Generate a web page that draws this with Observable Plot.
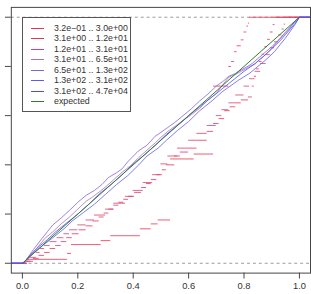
<!DOCTYPE html>
<html>
<head>
<meta charset="utf-8">
<script src="https://cdn.jsdelivr.net/npm/d3@7"></script>
<script src="https://cdn.jsdelivr.net/npm/@observablehq/plot@0.6"></script>
<style>
  html, body { margin: 0; padding: 0; background: #fff; overflow: hidden; width: 311px; height: 294px; }
  #wrap { position: relative; width: 311px; height: 294px; overflow: hidden; }
  #wrap svg { position: absolute; left: 0; top: 0; }
  #legend { position: absolute; left: 22px; top: 17px; width: 107px; height: 93px;
            border: 1px solid #555; background: #fff;
            font: 8.8px "Liberation Sans", Arial, sans-serif; color: #333; }
  #legend .row { position: absolute; left: 0; height: 10px; width: 100%; }
  #legend .swatch { position: absolute; left: 8px; width: 13px; top: 5px; height: 0; border-top: 1px solid; }
  #legend .lab { position: absolute; left: 31px; top: 0; line-height: 10px; white-space: nowrap; }
</style>
</head>
<body>
<div id="wrap"></div>
<script>
// Count bins (legend labels) and their colours, red (low counts) to blue (high counts)
const binLabels = [
  "3.2e\u221201 .. 3.0e+00",
  "3.1e+00 .. 1.2e+01",
  "1.2e+01 .. 3.1e+01",
  "3.1e+01 .. 6.5e+01",
  "6.5e+01 .. 1.3e+02",
  "1.3e+02 .. 3.1e+02",
  "3.1e+02 .. 4.7e+04"
];
const binColors = ["#e8334c", "#e2345a", "#d8406e", "#b070b4", "#8064d8", "#6458e6", "#4c4cf6"];
const expectedLabel = "expected";
const expectedColor = "#2e7a2e";

const xTicks = [0, 0.2, 0.4, 0.6, 0.8, 1.0];
const yTicks = [0, 0.2, 0.4, 0.6, 0.8, 1.0];

// Empirical CDFs of p-values per bin: [p, F] where F holds from p until the next jump.
const bin1 = [[0.018,0.016],[0.163,0.04],[0.177,0.076],[0.284,0.092],[0.319,0.112],[0.426,0.14],
  [0.465,0.16],[0.49,0.176],[0.535,0.424],[0.62,0.444],[0.69,0.72],[0.745,0.8],[0.755,0.82],
  [0.766,0.86],[0.775,0.884],[0.79,0.908],[0.8,0.94],[0.81,0.964],[0.816,0.976],[0.82,1]];
const bin2 = [[0.018,0.008],[0.04,0.02],[0.06,0.032],[0.08,0.044],[0.1,0.06],[0.12,0.072],[0.14,0.088],
  [0.16,0.104],[0.18,0.12],[0.205,0.136],[0.23,0.152],[0.255,0.172],[0.277,0.188],[0.295,0.204],
  [0.312,0.22],[0.33,0.236],[0.348,0.248],[0.366,0.26],[0.383,0.272],[0.405,0.288],[0.43,0.308],
  [0.448,0.324],[0.465,0.34],[0.485,0.36],[0.505,0.38],[0.52,0.4],[0.55,0.436],[0.57,0.452],
  [0.6,0.468],[0.63,0.5],[0.667,0.536],[0.69,0.568],[0.71,0.588],[0.73,0.62],[0.75,0.636],
  [0.77,0.652],[0.79,0.664],[0.816,0.676],[0.83,0.72],[0.837,0.76],[0.845,0.79],[0.855,0.82],
  [0.865,0.85],[0.875,0.88],[0.885,0.91],[0.895,0.94],[0.905,0.97],[0.912,1]];
const bin3 = [[0.015,0.008],[0.03,0.024],[0.05,0.044],[0.064,0.06],[0.08,0.072],[0.1,0.088],
  [0.125,0.104],[0.15,0.12],[0.17,0.136],[0.2,0.156],[0.23,0.176],[0.26,0.196],[0.3,0.22],
  [0.33,0.244],[0.372,0.272],[0.4,0.296],[0.436,0.328],[0.47,0.36],[0.5,0.404],[0.525,0.436],
  [0.56,0.468],[0.6,0.5],[0.63,0.528],[0.667,0.56],[0.7,0.6],[0.72,0.624],[0.745,0.652],
  [0.77,0.684],[0.8,0.72],[0.82,0.75],[0.84,0.78],[0.86,0.812],[0.88,0.848],[0.895,0.876],
  [0.91,0.9],[0.925,0.928],[0.937,0.952],[0.945,0.972],[0.95,1]];
const bin4 = [[0.008,0],[0.02,0.016],[0.04,0.044],[0.06,0.072],[0.08,0.1],[0.11,0.128],[0.14,0.16],
  [0.17,0.188],[0.2,0.22],[0.23,0.252],[0.252,0.268],[0.28,0.292],[0.3,0.31],[0.33,0.34],[0.36,0.37],
  [0.39,0.396],[0.42,0.43],[0.45,0.46],[0.48,0.49],[0.5,0.512],[0.525,0.536],[0.55,0.556],[0.58,0.58],
  [0.61,0.604],[0.64,0.63],[0.67,0.664],[0.7,0.69],[0.725,0.728],[0.745,0.756],[0.77,0.768],
  [0.79,0.78],[0.815,0.796],[0.84,0.81],[0.86,0.832],[0.88,0.85],[0.9,0.872],[0.92,0.9],
  [0.94,0.924],[0.96,0.948],[0.975,0.97],[0.99,0.992],[1,1]];
const bin5 = [[0.006,0],[0.02,0.024],[0.04,0.056],[0.07,0.1],[0.09,0.128],[0.11,0.156],[0.14,0.184],
  [0.17,0.215],[0.2,0.248],[0.23,0.276],[0.26,0.296],[0.287,0.32],[0.31,0.348],[0.34,0.368],
  [0.36,0.384],[0.38,0.412],[0.418,0.456],[0.45,0.48],[0.479,0.516],[0.5,0.532],[0.525,0.552],
  [0.55,0.572],[0.58,0.6],[0.61,0.628],[0.64,0.66],[0.67,0.688],[0.7,0.72],[0.725,0.74],
  [0.745,0.76],[0.77,0.772],[0.8,0.792],[0.825,0.808],[0.85,0.832],[0.875,0.856],[0.9,0.88],
  [0.925,0.908],[0.95,0.94],[0.97,0.964],[0.99,0.99],[1,1]];
const bin6 = [[0.004,0],[0.015,0.016],[0.03,0.032],[0.05,0.05],[0.08,0.078],[0.11,0.104],[0.15,0.14],
  [0.18,0.172],[0.22,0.206],[0.26,0.24],[0.3,0.28],[0.34,0.32],[0.38,0.356],[0.42,0.4],[0.45,0.436],
  [0.49,0.468],[0.52,0.5],[0.56,0.54],[0.6,0.576],[0.64,0.62],[0.68,0.656],[0.72,0.696],[0.75,0.72],
  [0.78,0.744],[0.82,0.772],[0.85,0.8],[0.88,0.828],[0.91,0.86],[0.93,0.888],[0.95,0.916],
  [0.97,0.948],[0.985,0.972],[1,1]];
const bin7 = [[0.003,0],[0.012,0.012],[0.03,0.036],[0.06,0.068],[0.09,0.096],[0.12,0.128],[0.16,0.164],
  [0.2,0.2],[0.24,0.24],[0.28,0.284],[0.32,0.32],[0.36,0.36],[0.4,0.404],[0.44,0.44],[0.48,0.48],
  [0.52,0.524],[0.56,0.56],[0.6,0.6],[0.64,0.636],[0.68,0.672],[0.72,0.708],[0.76,0.744],[0.8,0.78],
  [0.84,0.812],[0.87,0.84],[0.9,0.872],[0.93,0.904],[0.95,0.93],[0.97,0.956],[0.985,0.976],[1,1]];
const expected = [[0, 0], [1, 1]];

const domain = [-0.04, 1.04];

// Sparse bins: horizontal ECDF segments only (no verticals)
function stepSegments(pts) {
  const segs = [{a: domain[0], b: pts[0][0], F: 0}];
  pts.forEach((p, i) => segs.push({a: p[0], b: i + 1 < pts.length ? pts[i + 1][0] : domain[1], F: p[1]}));
  return segs;
}
// Dense bins: traced as a line, flat outside the observed range
function traced(pts) {
  return [[domain[0], 0], ...pts, [domain[1], 1]];
}

const stepBins = [bin1, bin2, bin3];
const lineBins = [bin4, bin5, bin6, bin7];

const marks = [
  Plot.ruleY([0, 1], {stroke: "#9a9a9a", strokeDasharray: "3,3", strokeWidth: 1}),
  ...stepBins.map((b, i) => Plot.ruleY(stepSegments(b), {
    y: "F", x1: "a", x2: "b", stroke: binColors[i], strokeWidth: 1, strokeOpacity: 0.8
  })),
  ...lineBins.map((b, i) => Plot.line(traced(b), {
    x: d => d[0], y: d => d[1], stroke: binColors[i + 3], strokeWidth: 1, strokeOpacity: 0.8
  })),
  Plot.line(expected, {x: d => d[0], y: d => d[1], stroke: expectedColor, strokeWidth: 1}),
  Plot.frame({stroke: "#444"}),
  Plot.axisX(xTicks, {tickSize: 6, tickPadding: 3, tickFormat: d3.format(".1f"), stroke: "#444", fill: "#333", label: null}),
  Plot.axisY(yTicks, {tickSize: 6, tickFormat: () => "", stroke: "#444", label: null})
];

const chart = Plot.plot({
  width: 316,
  height: 294,
  marginLeft: 11,
  marginRight: 1,
  marginTop: 7,
  marginBottom: 17,
  x: {domain, label: null},
  y: {domain, label: null},
  clip: true,
  style: {fontFamily: "'Liberation Sans', Arial, sans-serif", fontSize: "9.5px", background: "#fff"},
  marks
});

const wrap = document.getElementById("wrap");
wrap.appendChild(chart);

// Legend box in the upper left of the panel
const legend = document.createElement("div");
legend.id = "legend";
const entries = binLabels.map((l, i) => ({label: l, color: binColors[i]}))
  .concat([{label: expectedLabel, color: expectedColor}]);
entries.forEach((e, i) => {
  const row = document.createElement("div");
  row.className = "row";
  row.style.top = (5 + i * 10.45) + "px";
  const sw = document.createElement("div");
  sw.className = "swatch";
  sw.style.borderTopColor = e.color;
  const lab = document.createElement("div");
  lab.className = "lab";
  lab.textContent = e.label;
  row.appendChild(sw);
  row.appendChild(lab);
  legend.appendChild(row);
});
wrap.appendChild(legend);
</script>
</body>
</html>
